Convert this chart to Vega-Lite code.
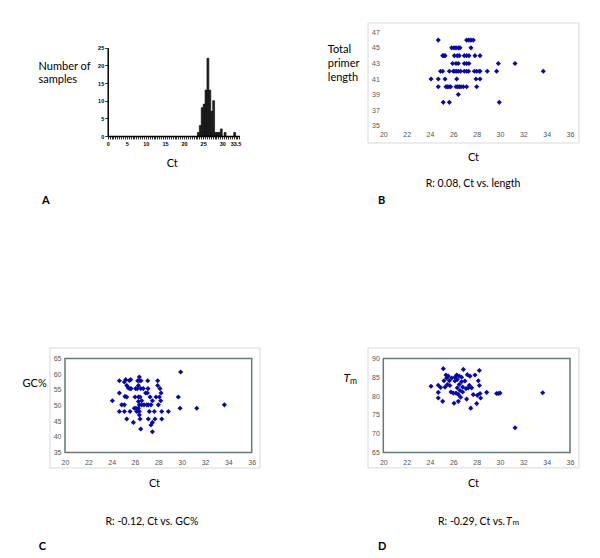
{
  "$schema": "https://vega.github.io/schema/vega-lite/v6.json",
  "background": "white",
  "padding": 0,
  "columns": 2,
  "spacing": 0,
  "bounds": "flush",
  "config": {
    "view": {"stroke": null},
    "axis": {"grid": false, "ticks": false, "domain": false, "tickCount": 200, "format": "d", "labelFont": "Liberation Sans", "labelFontSize": 7, "labelColor": "#555555", "titleFont": "Lato", "titleFontSize": 11, "titleFontWeight": "normal", "titleColor": "#000000", "labelOverlap": false, "labelFlush": false, "labelBound": false},
    "text": {"font": "Lato", "fontSize": 10.5, "color": "#000000"}
  },
  "concat": [
    {
      "width": 300, "height": 279,
      "layer": [
        {
          "data": {"values": [
            {"start": 23.5, "end": 24, "count": 1},
            {"start": 24, "end": 24.5, "count": 3},
            {"start": 24.5, "end": 25, "count": 8},
            {"start": 25, "end": 25.5, "count": 9},
            {"start": 25.5, "end": 26, "count": 13},
            {"start": 26, "end": 26.5, "count": 22},
            {"start": 26.5, "end": 27, "count": 13},
            {"start": 27, "end": 27.5, "count": 7},
            {"start": 27.5, "end": 28, "count": 10},
            {"start": 28, "end": 28.5, "count": 1},
            {"start": 28.5, "end": 29, "count": 1},
            {"start": 29, "end": 29.5, "count": 1},
            {"start": 29.5, "end": 30, "count": 2},
            {"start": 30.5, "end": 31, "count": 1},
            {"start": 33, "end": 33.5, "count": 1}
          ]},
          "mark": {"type": "rect", "fill": "#262626", "stroke": "#000000", "strokeWidth": 0.6},
          "encoding": {
            "x": {"field": "start", "type": "quantitative", "scale": {"domain": [0, 34.5], "range": [107.7, 239.4], "nice": false, "zero": false},
              "axis": {"values": [0,0.5,1,1.5,2,2.5,3,3.5,4,4.5,5,5.5,6,6.5,7,7.5,8,8.5,9,9.5,10,10.5,11,11.5,12,12.5,13,13.5,14,14.5,15,15.5,16,16.5,17,17.5,18,18.5,19,19.5,20,20.5,21,21.5,22,22.5,23,23.5,24,24.5,25,25.5,26,26.5,27,27.5,28,28.5,29,29.5,30,30.5,31,31.5,32,32.5,33,33.5,34,34.5],
                "tickCount": 200,
                "labelExpr": "(datum.value % 5 == 0) ? format(datum.value, 'd') : (datum.value == 33.5 ? '33.5' : '')",
                "labelOverlap": false,
                "offset": -143, "domain": true, "domainColor": "#000000", "domainWidth": 1.5, "ticks": true, "tickColor": "#000000", "tickSize": 3, "tickWidth": 0.8,
                "labelFontSize": 5.5, "labelFontWeight": "bold", "labelColor": "#000000", "labelPadding": 2,
                "title": "Ct", "titleX": 171.7, "titleY": 27, "titleBaseline": "middle", "titleAlign": "center", "titleAngle": 0}},
            "x2": {"field": "end"},
            "y": {"field": "count", "type": "quantitative", "scale": {"domain": [0, 25], "range": [136, 47.7], "nice": false, "zero": false},
              "axis": {"values": [0, 5, 10, 15, 20, 25], "tickCount": 200, "format": "d", "labelOverlap": false, "offset": -107.7, "domain": true, "domainColor": "#000000", "domainWidth": 1.5, "ticks": true, "tickColor": "#000000", "tickSize": 3, "tickWidth": 0.8,
                "labelFontSize": 5.5, "labelFontWeight": "bold", "labelColor": "#000000", "labelPadding": 1,
                "title": ["Number of", "samples"], "titleAngle": 0, "titleAlign": "left", "titleBaseline": "top", "titleX": -69.7, "titleY": 60, "titleLineHeight": 13}},
            "y2": {"datum": 0}
          }
        },
        {
          "data": {"values": [{"label": "A"}]},
          "mark": {"type": "text", "fontWeight": "bold", "fontSize": 11, "align": "left", "baseline": "middle"},
          "encoding": {
            "text": {"field": "label"},
            "x": {"datum": -17.2, "type": "quantitative", "scale": {"domain": [0, 34.5], "range": [107.7, 239.4], "nice": false, "zero": false}},
            "y": {"datum": -18.4, "type": "quantitative", "scale": {"domain": [0, 25], "range": [136, 47.7], "nice": false, "zero": false}}
          }
        }
      ]
    },
    {
      "width": 300, "height": 279,
      "layer": [
        {
          "data": {"values": [{"frame": "outer"}]},
          "mark": {"type": "rect", "fillOpacity": 0, "stroke": "#d9d9d9", "strokeWidth": 1},
          "encoding": {
            "x": {"datum": 18.69, "type": "quantitative", "scale": {"domain": [20, 36], "range": [83.3, 270], "nice": false, "zero": false}},
            "x2": {"datum": 36.77},
            "y": {"datum": 48.2, "type": "quantitative", "scale": {"domain": [35, 47], "range": [125.7, 32.3], "nice": false, "zero": false}},
            "y2": {"datum": 32.78}
          }
        },
        {
          "data": {"values": [
            {"ct": 24.71, "len": 46}, {"ct": 27.14, "len": 46}, {"ct": 27.34, "len": 46}, {"ct": 27.51, "len": 46}, {"ct": 27.71, "len": 46},
            {"ct": 25.86, "len": 45}, {"ct": 26.06, "len": 45}, {"ct": 26.23, "len": 45}, {"ct": 26.43, "len": 45}, {"ct": 26.57, "len": 45}, {"ct": 27.51, "len": 45},
            {"ct": 25.09, "len": 44}, {"ct": 25.2, "len": 44}, {"ct": 25.29, "len": 44}, {"ct": 26.09, "len": 44}, {"ct": 26.34, "len": 44}, {"ct": 26.51, "len": 44}, {"ct": 26.94, "len": 44}, {"ct": 27.14, "len": 44}, {"ct": 27.34, "len": 44}, {"ct": 27.86, "len": 44}, {"ct": 28.29, "len": 44},
            {"ct": 25.94, "len": 43}, {"ct": 26.23, "len": 43}, {"ct": 26.43, "len": 43}, {"ct": 26.94, "len": 43}, {"ct": 27.14, "len": 43}, {"ct": 27.34, "len": 43}, {"ct": 29.86, "len": 43}, {"ct": 31.29, "len": 43},
            {"ct": 24.9, "len": 42}, {"ct": 25.09, "len": 42}, {"ct": 25.66, "len": 42}, {"ct": 26.0, "len": 42}, {"ct": 26.14, "len": 42}, {"ct": 26.29, "len": 42}, {"ct": 26.43, "len": 42}, {"ct": 26.63, "len": 42}, {"ct": 26.94, "len": 42}, {"ct": 27.14, "len": 42}, {"ct": 27.31, "len": 42}, {"ct": 27.8, "len": 42}, {"ct": 28.0, "len": 42}, {"ct": 28.23, "len": 42}, {"ct": 28.29, "len": 42}, {"ct": 28.91, "len": 42}, {"ct": 29.71, "len": 42}, {"ct": 33.71, "len": 42},
            {"ct": 24.09, "len": 41}, {"ct": 24.71, "len": 41}, {"ct": 25.29, "len": 41}, {"ct": 26.29, "len": 41}, {"ct": 27.94, "len": 41}, {"ct": 28.29, "len": 41},
            {"ct": 24.71, "len": 40}, {"ct": 25.37, "len": 40}, {"ct": 25.49, "len": 40}, {"ct": 25.63, "len": 40}, {"ct": 25.77, "len": 40}, {"ct": 26.23, "len": 40}, {"ct": 26.37, "len": 40}, {"ct": 26.51, "len": 40}, {"ct": 26.66, "len": 40}, {"ct": 26.86, "len": 40}, {"ct": 27.14, "len": 40}, {"ct": 28.0, "len": 40},
            {"ct": 26.43, "len": 39},
            {"ct": 25.14, "len": 38}, {"ct": 25.66, "len": 38}, {"ct": 29.94, "len": 38}
          ]},
          "mark": {"type": "point", "shape": "diamond", "filled": true, "color": "#0808a8", "size": 26, "opacity": 1},
          "encoding": {
            "x": {"field": "ct", "type": "quantitative", "scale": {"domain": [20, 36], "range": [83.3, 270], "nice": false, "zero": false},
              "axis": {"values": [20, 22, 24, 26, 28, 30, 32, 34, 36], "tickCount": 200, "format": "d", "labelOverlap": false, "offset": -153.3, "labelPadding": 5, "title": "Ct", "titleX": 173, "titleY": 32, "titleBaseline": "middle", "titleAlign": "center", "titleAngle": 0}},
            "y": {"field": "len", "type": "quantitative", "scale": {"domain": [35, 47], "range": [125.7, 32.3], "nice": false, "zero": false},
              "axis": {"values": [35, 37, 39, 41, 43, 45, 47], "tickCount": 200, "format": "d", "labelOverlap": false, "offset": -83.3, "labelPadding": 4, "title": ["Total", "primer", "length"], "titleAngle": 0, "titleAlign": "left", "titleBaseline": "top", "titleX": -56, "titleY": 43, "titleLineHeight": 14}}
          }
        },
        {
          "data": {"values": [{"label": "R: 0.08, Ct vs. length"}]},
          "mark": {"type": "text", "align": "center", "baseline": "middle"},
          "encoding": {
            "text": {"field": "label"},
            "x": {"datum": 27.69, "type": "quantitative", "scale": {"domain": [20, 36], "range": [83.3, 270], "nice": false, "zero": false}},
            "y": {"datum": 27.5, "type": "quantitative", "scale": {"domain": [35, 47], "range": [125.7, 32.3], "nice": false, "zero": false}}
          }
        },
        {
          "data": {"values": [{"label": "B"}]},
          "mark": {"type": "text", "fontWeight": "bold", "fontSize": 11, "align": "left", "baseline": "middle"},
          "encoding": {
            "text": {"field": "label"},
            "x": {"datum": 19.55, "type": "quantitative", "scale": {"domain": [20, 36], "range": [83.3, 270], "nice": false, "zero": false}},
            "y": {"datum": 25.3, "type": "quantitative", "scale": {"domain": [35, 47], "range": [125.7, 32.3], "nice": false, "zero": false}}
          }
        }
      ]
    },
    {
      "width": 300, "height": 279,
      "layer": [
        {
          "data": {"values": [{"frame": "outer"}]},
          "mark": {"type": "rect", "fillOpacity": 0, "stroke": "#d9d9d9", "strokeWidth": 1},
          "encoding": {
            "x": {"datum": 18.71, "type": "quantitative", "scale": {"domain": [20, 36], "range": [65, 251.7], "nice": false, "zero": false}},
            "x2": {"datum": 36.71},
            "y": {"datum": 68.35, "type": "quantitative", "scale": {"domain": [35, 65], "range": [173.5, 79.5], "nice": false, "zero": false}},
            "y2": {"datum": 30.05}
          }
        },
        {
          "data": {"values": [{"frame": "plot"}]},
          "mark": {"type": "rect", "fillOpacity": 0, "stroke": "#667878", "strokeWidth": 1.5},
          "encoding": {
            "x": {"datum": 20, "type": "quantitative", "scale": {"domain": [20, 36], "range": [65, 251.7], "nice": false, "zero": false}},
            "x2": {"datum": 36},
            "y": {"datum": 65, "type": "quantitative", "scale": {"domain": [35, 65], "range": [173.5, 79.5], "nice": false, "zero": false}},
            "y2": {"datum": 35}
          }
        },
        {
          "data": {"values": [
            {"ct": 24.06, "gc": 51.5}, {"ct": 24.66, "gc": 57.9}, {"ct": 24.66, "gc": 54.0}, {"ct": 24.66, "gc": 48.1}, {"ct": 24.86, "gc": 50.2},
            {"ct": 25.09, "gc": 50.2}, {"ct": 25.09, "gc": 48.1}, {"ct": 25.09, "gc": 57.5}, {"ct": 25.2, "gc": 58.25}, {"ct": 25.14, "gc": 52.9},
            {"ct": 25.29, "gc": 52.7}, {"ct": 25.29, "gc": 56.4}, {"ct": 25.29, "gc": 45.7}, {"ct": 25.43, "gc": 55.6}, {"ct": 25.51, "gc": 58.0},
            {"ct": 25.57, "gc": 55.4}, {"ct": 25.63, "gc": 58.25}, {"ct": 25.66, "gc": 55.4}, {"ct": 25.57, "gc": 48.1}, {"ct": 25.86, "gc": 44.6},
            {"ct": 25.94, "gc": 49.1}, {"ct": 26.0, "gc": 52.7}, {"ct": 26.06, "gc": 55.4}, {"ct": 26.09, "gc": 49.1}, {"ct": 26.14, "gc": 48.1},
            {"ct": 26.2, "gc": 55.4}, {"ct": 26.23, "gc": 57.9}, {"ct": 26.29, "gc": 56.4}, {"ct": 26.29, "gc": 52.7}, {"ct": 26.29, "gc": 51.3},
            {"ct": 26.29, "gc": 49.1}, {"ct": 26.37, "gc": 59.1}, {"ct": 26.37, "gc": 57.9}, {"ct": 26.37, "gc": 50.2}, {"ct": 26.37, "gc": 48.1},
            {"ct": 26.37, "gc": 47.0}, {"ct": 26.43, "gc": 45.7}, {"ct": 26.43, "gc": 52.7}, {"ct": 26.49, "gc": 55.4}, {"ct": 26.49, "gc": 42.5},
            {"ct": 26.51, "gc": 57.9}, {"ct": 26.57, "gc": 50.2}, {"ct": 26.57, "gc": 51.5}, {"ct": 26.71, "gc": 55.4}, {"ct": 26.77, "gc": 50.2},
            {"ct": 26.91, "gc": 54.0}, {"ct": 27.0, "gc": 50.2}, {"ct": 27.06, "gc": 54.0}, {"ct": 27.09, "gc": 57.9}, {"ct": 27.11, "gc": 55.4},
            {"ct": 27.14, "gc": 50.2}, {"ct": 27.14, "gc": 45.7}, {"ct": 27.23, "gc": 48.1}, {"ct": 27.29, "gc": 52.7}, {"ct": 27.37, "gc": 50.2},
            {"ct": 27.37, "gc": 43.8}, {"ct": 27.49, "gc": 41.6}, {"ct": 27.49, "gc": 44.6}, {"ct": 27.49, "gc": 51.5}, {"ct": 27.66, "gc": 48.1},
            {"ct": 27.71, "gc": 45.7}, {"ct": 27.8, "gc": 52.7}, {"ct": 27.94, "gc": 57.9}, {"ct": 27.94, "gc": 56.4}, {"ct": 28.0, "gc": 50.2},
            {"ct": 28.09, "gc": 52.7}, {"ct": 28.14, "gc": 55.4}, {"ct": 28.2, "gc": 51.5}, {"ct": 28.23, "gc": 54.0}, {"ct": 28.29, "gc": 48.1},
            {"ct": 28.29, "gc": 45.7}, {"ct": 28.86, "gc": 48.1}, {"ct": 29.71, "gc": 52.7}, {"ct": 29.91, "gc": 60.7}, {"ct": 29.86, "gc": 49.1},
            {"ct": 31.29, "gc": 49.1}, {"ct": 33.66, "gc": 50.2}
          ]},
          "mark": {"type": "point", "shape": "diamond", "filled": true, "color": "#0808a8", "size": 26, "opacity": 1},
          "encoding": {
            "x": {"field": "ct", "type": "quantitative", "scale": {"domain": [20, 36], "range": [65, 251.7], "nice": false, "zero": false},
              "axis": {"values": [20, 22, 24, 26, 28, 30, 32, 34, 36], "tickCount": 200, "format": "d", "labelOverlap": false, "offset": -105.5, "labelPadding": 5.5, "title": "Ct", "titleX": 154, "titleY": 31, "titleBaseline": "middle", "titleAlign": "center", "titleAngle": 0}},
            "y": {"field": "gc", "type": "quantitative", "scale": {"domain": [35, 65], "range": [173.5, 79.5], "nice": false, "zero": false},
              "axis": {"values": [35, 40, 45, 50, 55, 60, 65], "tickCount": 200, "format": "d", "labelOverlap": false, "offset": -65, "labelPadding": 4, "title": "GC%", "titleAngle": 0, "titleAlign": "left", "titleBaseline": "top", "titleX": -43, "titleY": 98}}
          }
        },
        {
          "data": {"values": [{"label": "R: -0.12, Ct vs. GC%"}]},
          "mark": {"type": "text", "align": "center", "baseline": "middle"},
          "encoding": {
            "text": {"field": "label"},
            "x": {"datum": 27.45, "type": "quantitative", "scale": {"domain": [20, 36], "range": [65, 251.7], "nice": false, "zero": false}},
            "y": {"datum": 12.82, "type": "quantitative", "scale": {"domain": [35, 65], "range": [173.5, 79.5], "nice": false, "zero": false}}
          }
        },
        {
          "data": {"values": [{"label": "C"}]},
          "mark": {"type": "text", "fontWeight": "bold", "fontSize": 11, "align": "left", "baseline": "middle"},
          "encoding": {
            "text": {"field": "label"},
            "x": {"datum": 17.75, "type": "quantitative", "scale": {"domain": [20, 36], "range": [65, 251.7], "nice": false, "zero": false}},
            "y": {"datum": 4.84, "type": "quantitative", "scale": {"domain": [35, 65], "range": [173.5, 79.5], "nice": false, "zero": false}}
          }
        }
      ]
    },
    {
      "width": 300, "height": 279,
      "layer": [
        {
          "data": {"values": [{"frame": "outer"}]},
          "mark": {"type": "rect", "fillOpacity": 0, "stroke": "#d9d9d9", "strokeWidth": 1},
          "encoding": {
            "x": {"datum": 18.69, "type": "quantitative", "scale": {"domain": [20, 36], "range": [83.3, 270], "nice": false, "zero": false}},
            "x2": {"datum": 36.77},
            "y": {"datum": 92.8, "type": "quantitative", "scale": {"domain": [65, 90], "range": [173.5, 79.5], "nice": false, "zero": false}},
            "y2": {"datum": 60.9}
          }
        },
        {
          "data": {"values": [{"frame": "plot"}]},
          "mark": {"type": "rect", "fillOpacity": 0, "stroke": "#667878", "strokeWidth": 1.5},
          "encoding": {
            "x": {"datum": 20, "type": "quantitative", "scale": {"domain": [20, 36], "range": [83.3, 270], "nice": false, "zero": false}},
            "x2": {"datum": 36},
            "y": {"datum": 90, "type": "quantitative", "scale": {"domain": [65, 90], "range": [173.5, 79.5], "nice": false, "zero": false}},
            "y2": {"datum": 65}
          }
        },
        {
          "data": {"values": [
            {"ct": 24.09, "tm": 82.6}, {"ct": 24.71, "tm": 82.9}, {"ct": 24.71, "tm": 81.0}, {"ct": 24.71, "tm": 79.5}, {"ct": 24.91, "tm": 82.3},
            {"ct": 25.09, "tm": 78.6}, {"ct": 25.14, "tm": 87.3}, {"ct": 25.2, "tm": 84.1}, {"ct": 25.29, "tm": 82.4}, {"ct": 25.37, "tm": 85.6},
            {"ct": 25.43, "tm": 84.8}, {"ct": 25.49, "tm": 83.1}, {"ct": 25.57, "tm": 85.3}, {"ct": 25.66, "tm": 84.1}, {"ct": 25.71, "tm": 82.8},
            {"ct": 25.8, "tm": 81.1}, {"ct": 25.86, "tm": 84.8}, {"ct": 26.0, "tm": 80.8}, {"ct": 26.06, "tm": 78.1}, {"ct": 26.14, "tm": 85.0},
            {"ct": 26.14, "tm": 84.0}, {"ct": 26.23, "tm": 80.8}, {"ct": 26.29, "tm": 85.6}, {"ct": 26.34, "tm": 84.4}, {"ct": 26.34, "tm": 82.2},
            {"ct": 26.43, "tm": 80.4}, {"ct": 26.43, "tm": 78.6}, {"ct": 26.51, "tm": 85.3}, {"ct": 26.51, "tm": 83.1}, {"ct": 26.57, "tm": 81.5},
            {"ct": 26.63, "tm": 79.7}, {"ct": 26.71, "tm": 85.0}, {"ct": 26.71, "tm": 83.8}, {"ct": 26.8, "tm": 82.4}, {"ct": 26.8, "tm": 81.1},
            {"ct": 26.86, "tm": 87.1}, {"ct": 27.0, "tm": 84.0}, {"ct": 27.09, "tm": 82.0}, {"ct": 27.14, "tm": 79.2}, {"ct": 27.2, "tm": 85.7},
            {"ct": 27.29, "tm": 82.2}, {"ct": 27.37, "tm": 82.9}, {"ct": 27.43, "tm": 85.3}, {"ct": 27.49, "tm": 76.8}, {"ct": 27.57, "tm": 82.2},
            {"ct": 27.71, "tm": 80.4}, {"ct": 27.86, "tm": 85.6}, {"ct": 28.0, "tm": 78.0}, {"ct": 28.06, "tm": 80.2}, {"ct": 28.14, "tm": 84.1},
            {"ct": 28.23, "tm": 86.8}, {"ct": 28.23, "tm": 82.8}, {"ct": 28.29, "tm": 80.7}, {"ct": 28.34, "tm": 79.5}, {"ct": 28.86, "tm": 81.0},
            {"ct": 29.71, "tm": 80.7}, {"ct": 29.86, "tm": 80.7}, {"ct": 30.0, "tm": 80.8}, {"ct": 31.29, "tm": 71.6}, {"ct": 33.66, "tm": 80.9}
          ]},
          "mark": {"type": "point", "shape": "diamond", "filled": true, "color": "#0808a8", "size": 26, "opacity": 1},
          "encoding": {
            "x": {"field": "ct", "type": "quantitative", "scale": {"domain": [20, 36], "range": [83.3, 270], "nice": false, "zero": false},
              "axis": {"values": [20, 22, 24, 26, 28, 30, 32, 34, 36], "tickCount": 200, "format": "d", "labelOverlap": false, "offset": -105.5, "labelPadding": 5.5, "title": "Ct", "titleX": 173, "titleY": 31, "titleBaseline": "middle", "titleAlign": "center", "titleAngle": 0}},
            "y": {"field": "tm", "type": "quantitative", "scale": {"domain": [65, 90], "range": [173.5, 79.5], "nice": false, "zero": false},
              "axis": {"values": [65, 70, 75, 80, 85, 90], "tickCount": 200, "format": "d", "labelOverlap": false, "offset": -83.3, "labelPadding": 4, "title": "T", "titleFontStyle": "italic", "titleFontSize": 12, "titleAngle": 0, "titleAlign": "left", "titleBaseline": "top", "titleX": -40.3, "titleY": 93}}
          }
        },
        {
          "data": {"values": [{"label": "m"}]},
          "mark": {"type": "text", "fontSize": 8.5, "align": "left", "baseline": "alphabetic"},
          "encoding": {
            "text": {"field": "label"},
            "x": {"datum": 17.15, "type": "quantitative", "scale": {"domain": [20, 36], "range": [83.3, 270], "nice": false, "zero": false}},
            "y": {"datum": 83.22, "type": "quantitative", "scale": {"domain": [65, 90], "range": [173.5, 79.5], "nice": false, "zero": false}}
          }
        },
        {
          "data": {"values": [{"label": "R: -0.29, Ct vs. "}]},
          "mark": {"type": "text", "align": "right", "baseline": "middle"},
          "encoding": {
            "text": {"field": "label"},
            "x": {"datum": 30.43, "type": "quantitative", "scale": {"domain": [20, 36], "range": [83.3, 270], "nice": false, "zero": false}},
            "y": {"datum": 46.57, "type": "quantitative", "scale": {"domain": [65, 90], "range": [173.5, 79.5], "nice": false, "zero": false}}
          }
        },
        {
          "data": {"values": [{"label": "T"}]},
          "mark": {"type": "text", "align": "left", "baseline": "middle", "fontStyle": "italic", "dx": 1},
          "encoding": {
            "text": {"field": "label"},
            "x": {"datum": 30.43, "type": "quantitative", "scale": {"domain": [20, 36], "range": [83.3, 270], "nice": false, "zero": false}},
            "y": {"datum": 46.57, "type": "quantitative", "scale": {"domain": [65, 90], "range": [173.5, 79.5], "nice": false, "zero": false}}
          }
        },
        {
          "data": {"values": [{"label": "m"}]},
          "mark": {"type": "text", "align": "left", "baseline": "middle", "fontSize": 8, "dx": 7.5, "dy": 1.5},
          "encoding": {
            "text": {"field": "label"},
            "x": {"datum": 30.43, "type": "quantitative", "scale": {"domain": [20, 36], "range": [83.3, 270], "nice": false, "zero": false}},
            "y": {"datum": 46.57, "type": "quantitative", "scale": {"domain": [65, 90], "range": [173.5, 79.5], "nice": false, "zero": false}}
          }
        },
        {
          "data": {"values": [{"label": "D"}]},
          "mark": {"type": "text", "fontWeight": "bold", "fontSize": 11, "align": "left", "baseline": "middle"},
          "encoding": {
            "text": {"field": "label"},
            "x": {"datum": 19.55, "type": "quantitative", "scale": {"domain": [20, 36], "range": [83.3, 270], "nice": false, "zero": false}},
            "y": {"datum": 39.92, "type": "quantitative", "scale": {"domain": [65, 90], "range": [173.5, 79.5], "nice": false, "zero": false}}
          }
        }
      ]
    }
  ]
}
